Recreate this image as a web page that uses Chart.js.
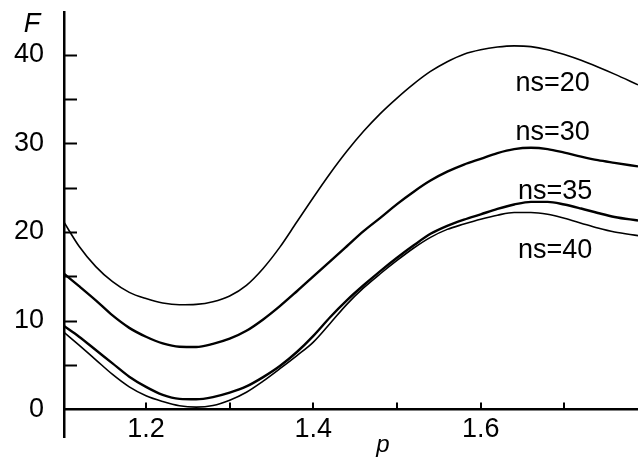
<!DOCTYPE html>
<html>
<head>
<meta charset="utf-8">
<script src="https://cdn.jsdelivr.net/npm/chart.js@4.4.1/dist/chart.umd.min.js"></script>
<style>
  html, body { margin: 0; padding: 0; background: #fff; }
  #chart { display: block; }
</style>
</head>
<body>
<canvas id="chart" width="638" height="459"></canvas>
<script>
// p values (x) shared by every curve
const pValues = [1.102, 1.12, 1.14, 1.16, 1.18, 1.20, 1.22, 1.24, 1.26, 1.28, 1.30, 1.32,
                 1.34, 1.36, 1.38, 1.40, 1.42, 1.44, 1.46, 1.48, 1.50, 1.52, 1.54, 1.56,
                 1.58, 1.60, 1.62, 1.64, 1.66, 1.68, 1.70, 1.72, 1.74, 1.76, 1.788];

// F for each ns
const fNs20 = [21.1, 18.4, 16.1, 14.4, 13.2, 12.5, 12.0, 11.8, 11.85, 12.15, 12.8, 14.0,
               15.9, 18.3, 21.1, 23.9, 26.6, 29.1, 31.35, 33.35, 35.1, 36.7, 38.1, 39.2,
               40.05, 40.55, 40.85, 40.98, 40.9, 40.55, 40.0, 39.35, 38.6, 37.8, 36.6];
const fNs30 = [15.3, 13.9, 12.3, 10.6, 9.2, 8.2, 7.45, 7.08, 7.05, 7.4, 7.98, 8.87,
               10.15, 11.65, 13.3, 15.0, 16.7, 18.4, 20.1, 21.6, 23.15, 24.55, 25.8, 26.8,
               27.6, 28.25, 28.9, 29.35, 29.5, 29.35, 28.95, 28.5, 28.1, 27.8, 27.4];
const fNs35 = [9.4, 8.2, 6.7, 5.2, 3.7, 2.55, 1.65, 1.2, 1.15, 1.4, 1.9, 2.6,
               3.65, 4.9, 6.45, 8.3, 10.4, 12.3, 14.0, 15.6, 17.1, 18.5, 19.8, 20.7,
               21.4, 22.0, 22.6, 23.1, 23.4, 23.4, 23.1, 22.65, 22.15, 21.7, 21.3];
const fNs40 = [8.7, 7.25, 5.6, 3.95, 2.55, 1.55, 0.9, 0.42, 0.27, 0.45, 1.05, 1.95,
               3.2, 4.6, 6.05, 7.6, 9.7, 11.85, 13.7, 15.3, 16.8, 18.2, 19.4, 20.3,
               20.9, 21.45, 21.9, 22.2, 22.2, 22.0, 21.55, 21.0, 20.45, 20.0, 19.6];

// curve names and where they sit (data coordinates)
const curveNames = ['ns=20', 'ns=30', 'ns=35', 'ns=40'];
const nameP = [1.686, 1.686, 1.689, 1.689];
const nameF = [36.75, 31.2, 24.6, 17.9];

// ticks
const xTicks = [1.2, 1.3, 1.4, 1.5, 1.6, 1.7];
const xTickLabels = ['1.2', '', '1.4', '', '1.6', ''];
const yTicks = [0, 5, 10, 15, 20, 25, 30, 35, 40];
const yTickLabels = ['0', '', '10', '', '20', '', '30', '', '40'];

const FONT = '"Liberation Sans", Arial, sans-serif';

function toPoints(ys) {
    return pValues.map((p, i) => ({ x: p, y: ys[i] }));
}

function curve(ys, width) {
    return {
        data: toPoints(ys),
        borderColor: '#000',
        borderWidth: width,
        pointRadius: 0,
        fill: false,
        cubicInterpolationMode: 'monotone'
    };
}

// inward ticks, curve names and axis titles
const axisDecor = {
    id: 'axisDecor',
    afterDraw: function(chart) {
        const { ctx, chartArea } = chart;
        const x = chart.scales.x;
        const y = chart.scales.y;
        const y0 = y.getPixelForValue(0);
        const x0 = chartArea.left;

        ctx.save();
        ctx.strokeStyle = '#000';
        ctx.lineWidth = 2;
        yTicks.forEach(v => {
            if (v === 0) return;
            const py = Math.round(y.getPixelForValue(v)) + 0.5;
            ctx.beginPath();
            ctx.moveTo(x0, py);
            ctx.lineTo(x0 + 13, py);
            ctx.stroke();
        });
        xTicks.forEach(v => {
            const px = Math.round(x.getPixelForValue(v));
            ctx.beginPath();
            ctx.moveTo(px, y0);
            ctx.lineTo(px, y0 - 7);
            ctx.stroke();
        });

        ctx.fillStyle = '#000';
        ctx.textAlign = 'center';
        ctx.textBaseline = 'middle';
        ctx.font = '27px ' + FONT;
        curveNames.forEach((name, i) => {
            ctx.fillText(name, x.getPixelForValue(nameP[i]), y.getPixelForValue(nameF[i]));
        });

        ctx.textBaseline = 'alphabetic';
        ctx.font = 'italic 27px ' + FONT;
        ctx.fillText('F', x0 - 32, chartArea.top + 20);
        ctx.font = 'italic 24px ' + FONT;
        ctx.fillText('p', 383, y0 + 43);
        ctx.restore();
    }
};

new Chart(document.getElementById('chart'), {
    type: 'line',
    data: {
        datasets: [
            curve(fNs20, 1.6),
            curve(fNs30, 2.4),
            curve(fNs35, 2.4),
            curve(fNs40, 1.6)
        ]
    },
    options: {
        responsive: false,
        animation: false,
        devicePixelRatio: 1,
        layout: { padding: { top: 12, bottom: 22, left: 0, right: 0 } },
        plugins: {
            legend: { display: false },
            tooltip: { enabled: false }
        },
        scales: {
            x: {
                type: 'linear',
                min: 1.102,
                max: 1.788,
                position: { y: 0 },
                grid: { display: false, drawTicks: false },
                border: { display: true, color: '#000', width: 2.5 },
                afterBuildTicks: axis => { axis.ticks = xTicks.map(v => ({ value: v })); },
                afterFit: axis => { axis.paddingLeft = 0; axis.paddingRight = 0; },
                ticks: {
                    autoSkip: false,
                    maxRotation: 0,
                    padding: 4,
                    color: '#000',
                    font: { family: FONT, size: 27 },
                    callback: (value, index) => xTickLabels[index]
                }
            },
            y: {
                type: 'linear',
                min: -3.1,
                max: 44.8,
                position: 'left',
                grid: { display: false, drawTicks: false },
                border: { display: true, color: '#000', width: 2.5 },
                afterBuildTicks: axis => { axis.ticks = yTicks.map(v => ({ value: v })); },
                afterFit: axis => { axis.width = 64; axis.paddingTop = 0; axis.paddingBottom = 0; },
                ticks: {
                    autoSkip: false,
                    padding: 20,
                    color: '#000',
                    font: { family: FONT, size: 27 },
                    callback: (value, index) => yTickLabels[index]
                }
            }
        }
    },
    plugins: [axisDecor]
});
</script>
</body>
</html>
